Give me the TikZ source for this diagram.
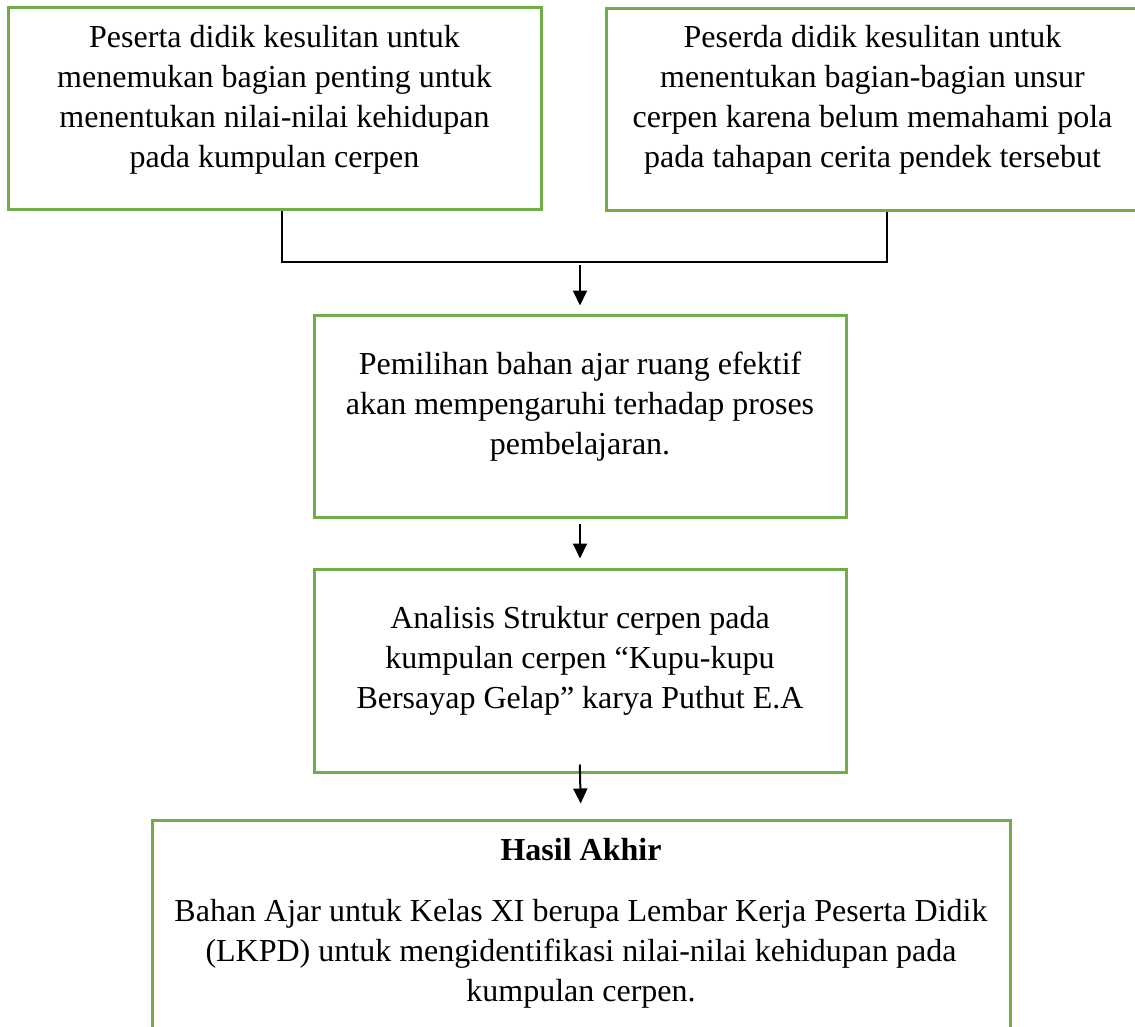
\documentclass[tikz,border=0pt]{standalone}
\usepackage{fontspec}
\setmainfont{Liberation Serif}
\usetikzlibrary{arrows.meta, positioning}
\definecolor{boxgreen}{RGB}{112,173,71}

\begin{document}
\begin{tikzpicture}[x=1pt, y=-1pt,
        box/.style={draw=boxgreen, line width=3pt, minimum width=533pt, minimum height=202pt, inner sep=0pt},
        txt/.style={align=center, inner sep=0pt, font=\fontsize{32}{40}\selectfont},
        link/.style={draw=black, line width=1.5pt},
        arr/.style={draw=black, line width=2pt, -{Triangle[length=15pt, width=14pt]}}]
        \useasboundingbox (0,0) rectangle (1135,1027);
        \clip (0,0) rectangle (1135,1027);

        % Box 1 (top left)
        \node[box] (probA) at (274.5,109) {};
        \node[txt, below=19pt of probA.north] (probAtext) {Peserta didik kesulitan untuk\\ menemukan bagian penting untuk\\ menentukan nilai-nilai kehidupan\\ pada kumpulan cerpen};

        % Box 2 (top right, runs past the edge)
        \node[box] (probB) at (872.5,110) {};
        \node[txt, below=18pt of probB.north] (probBtext) {Peserda didik kesulitan untuk\\ menentukan bagian-bagian unsur\\ cerpen karena belum memahami pola\\ pada tahapan cerita pendek tersebut};

        % Joining line under both boxes
        \coordinate (jA) at (282,262);
        \coordinate (jB) at (887,262);
        \draw[link] (probA.south -| jA) -- (jA) -- (jB) -- (probB.south -| jB);

        % Box 3 (middle)
        \node[box, minimum width=532pt] (choice) at (580,416) {};
        \node[txt, below=38pt of choice.north] (choicetext) {Pemilihan bahan ajar ruang efektif\\ akan mempengaruhi terhadap proses\\ pembelajaran.};

        % Box 4 (below box 3)
        \node[box, minimum width=532pt, minimum height=203pt] (analysis) at (580,670.5) {};
        \node[txt, below=39pt of analysis.north] (analysistext) {Analisis Struktur cerpen pada\\ kumpulan cerpen “Kupu-kupu\\ Bersayap Gelap” karya Puthut E.A};

        % Box 5 (bottom, cut off by the page)
        \node[box, minimum width=858pt, minimum height=260pt] (result) at (581,950) {};
        \node[txt, below=20pt of result.north] (resulttext) {\textbf{Hasil Akhir}\\[21pt] Bahan Ajar untuk Kelas XI berupa Lembar Kerja Peserta Didik\\ (LKPD) untuk mengidentifikasi nilai-nilai kehidupan pada\\ kumpulan cerpen.};

        % Arrows
        \draw[arr, shorten <=3pt, shorten >=8pt] (choice.north |- jA) -- (choice.north);
        \draw[arr, shorten <=5pt, shorten >=9pt] (choice.south) -- (analysis.north);
        \draw[arr, shorten <=-9pt, shorten >=15pt] (analysis.south) -- (result.north);
\end{tikzpicture}
\end{document}
